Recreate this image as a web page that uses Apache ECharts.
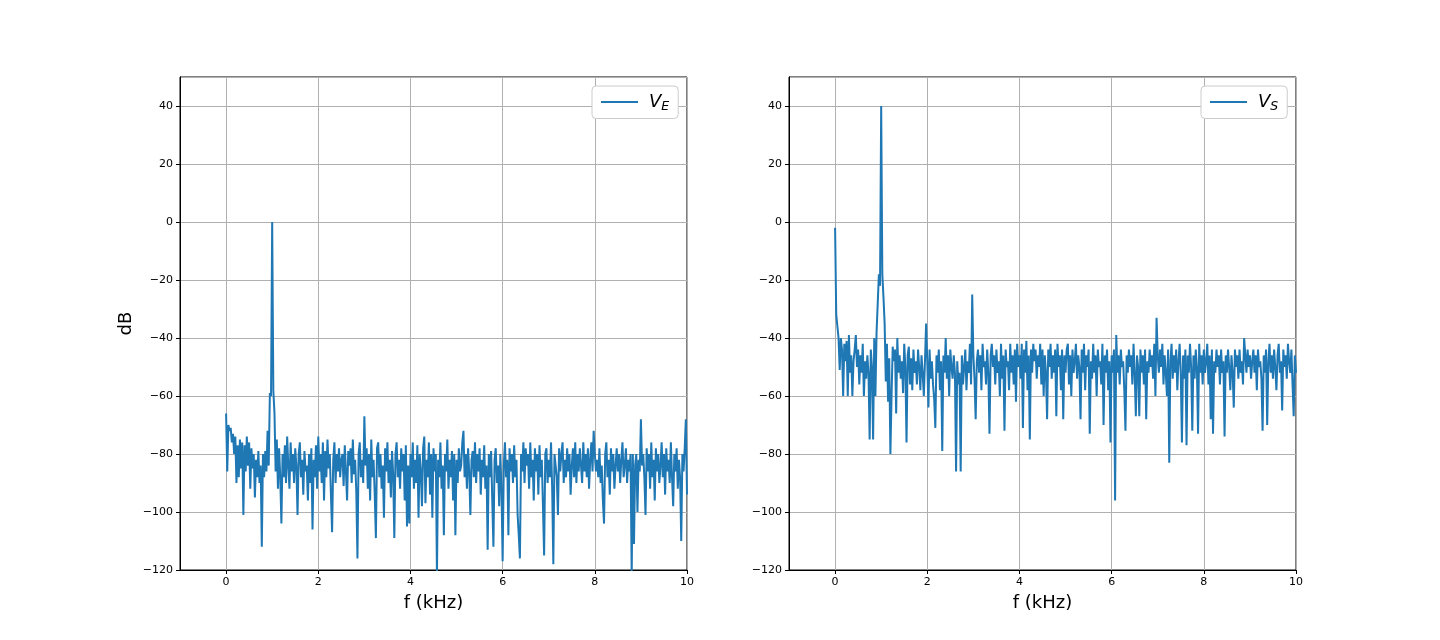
<!DOCTYPE html>
<html>
<head>
<meta charset="utf-8">
<script src="https://cdn.jsdelivr.net/npm/echarts@6/dist/echarts.min.js"></script>
<style>
  html, body { margin: 0; padding: 0; background: #fff; }
  #chart { width: 1440px; height: 640px; }
</style>
</head>
<body>
<div id="chart"></div>
<script>
// spectrum sampled every 25 Hz, 0 .. 10 kHz
const freqStep = 0.025;

// V_E (left panel), dB
const veDb = [
  -66, -86, -70, -72, -71, -76, -73, -80, -74, -90, -77, -88, -75, -85, -76, -101, -77, -86, -74, -84,
  -76, -92, -78, -85, -80, -95, -82, -88, -79, -90, -84, -112, -80, -88, -79, -86, -72, -84, -59, -60,
  0, -58, -66, -86, -75, -92, -78, -88, -104, -80, -88, -77, -90, -74, -84, -92, -76, -86, -80, -90,
  -78, -84, -101, -80, -76, -88, -82, -94, -79, -86, -84, -96, -80, -90, -78, -106, -82, -88, -77, -92,
  -74, -86, -80, -90, -76, -96, -79, -88, -75, -85, -80, -94, -107, -82, -76, -90, -80, -86, -78, -88,
  -82, -80, -91, -77, -86, -96, -79, -84, -78, -90, -75, -87, -82, -93, -116, -80, -76, -88, -82, -90,
  -67, -84, -78, -92, -80, -96, -75, -88, -82, -94, -109, -78, -76, -88, -80, -92, -84, -102, -78, -86,
  -76, -90, -82, -95, -79, -87, -109, -80, -76, -88, -82, -92, -78, -86, -80, -96, -77, -105, -84, -104,
  -80, -88, -76, -92, -82, -90, -77, -102, -80, -86, -98, -78, -74, -97, -82, -88, -76, -94, -80, -102,
  -78, -86, -80, -122, -82, -88, -76, -92, -84, -108, -80, -86, -75, -92, -82, -88, -79, -96, -80, -108,
  -82, -90, -78, -86, -84, -76, -72, -88, -80, -92, -78, -86, -101, -82, -79, -88, -76, -90, -80, -86,
  -78, -94, -82, -88, -77, -92, -84, -113, -80, -88, -79, -96, -112, -82, -78, -90, -84, -98, -80, -92,
  -117, -84, -76, -88, -82, -108, -78, -86, -80, -90, -77, -88, -82, -101, -108, -116, -80, -86, -76, -90,
  -78, -84, -80, -92, -76, -88, -82, -96, -78, -86, -80, -94, -77, -88, -82, -98, -115, -80, -78, -90,
  -82, -88, -76, -92, -118, -80, -84, -88, -101, -78, -86, -80, -76, -90, -82, -88, -78, -86, -80, -94,
  -84, -78, -88, -76, -90, -80, -86, -78, -84, -90, -76, -86, -80, -88, -78, -92, -82, -76, -86, -72,
  -80, -86, -82, -88, -78, -90, -84, -96, -104, -80, -76, -88, -82, -94, -78, -86, -80, -92, -84, -78,
  -86, -80, -90, -82, -76, -88, -84, -78, -90, -82, -86, -80, -122, -80, -111, -84, -80, -100, -82, -86,
  -68, -84, -80, -88, -101, -78, -86, -80, -92, -76, -88, -82, -96, -78, -86, -80, -90, -84, -76, -88,
  -80, -94, -78, -86, -82, -90, -76, -88, -98, -80, -86, -78, -92, -82, -88, -110, -80, -86, -78, -68,
  -94
];

// V_S (right panel), dB
const vsDb = [
  -2, -32, -36, -40, -51, -40, -44, -60, -42, -48, -41, -60, -39, -52, -46, -60, -48, -44, -39, -50,
  -44, -56, -46, -52, -42, -60, -48, -54, -46, -52, -75, -44, -50, -75, -40, -60, -38, -28, -18, -22,
  40, -18, -26, -35, -55, -42, -62, -47, -80, -60, -43, -48, -44, -66, -40, -52, -46, -54, -48, -59,
  -42, -50, -76, -46, -43, -56, -47, -58, -44, -52, -48, -56, -44, -50, -58, -46, -52, -60, -48, -35,
  -48, -64, -44, -54, -48, -56, -61, -71, -46, -52, -44, -58, -48, -79, -46, -52, -40, -54, -46, -60,
  -44, -50, -54, -46, -52, -86, -48, -56, -52, -86, -46, -56, -50, -44, -58, -48, -52, -42, -56, -25,
  -46, -54, -68, -48, -44, -52, -46, -58, -42, -50, -48, -56, -44, -52, -73, -46, -42, -50, -46, -56,
  -44, -52, -48, -60, -42, -54, -46, -72, -44, -50, -48, -58, -42, -52, -46, -56, -44, -62, -42, -50,
  -46, -54, -42, -71, -44, -52, -41, -58, -46, -75, -44, -52, -42, -48, -44, -54, -46, -50, -42, -56,
  -44, -60, -46, -52, -68, -44, -50, -42, -54, -46, -52, -44, -67, -42, -50, -46, -58, -44, -68, -46,
  -52, -44, -42, -56, -46, -60, -44, -52, -48, -42, -54, -46, -50, -68, -44, -52, -42, -58, -46, -50,
  -44, -73, -48, -54, -42, -52, -46, -60, -44, -50, -48, -56, -42, -70, -46, -52, -44, -58, -48, -76,
  -46, -52, -44, -96, -39, -52, -46, -56, -44, -50, -48, -58, -72, -46, -52, -44, -50, -46, -56, -42,
  -52, -67, -46, -50, -67, -44, -52, -46, -56, -44, -68, -48, -52, -44, -50, -46, -54, -42, -60, -33,
  -46, -52, -44, -50, -42, -56, -46, -52, -60, -44, -83, -48, -42, -54, -46, -52, -44, -58, -48, -42,
  -52, -76, -46, -54, -44, -77, -46, -52, -42, -50, -72, -46, -54, -44, -50, -73, -42, -52, -46, -56,
  -44, -52, -48, -42, -56, -46, -68, -44, -73, -48, -52, -44, -50, -46, -56, -44, -52, -48, -74, -46,
  -52, -44, -50, -58, -46, -52, -64, -44, -50, -46, -54, -44, -52, -48, -56, -40, -46, -52, -44, -50,
  -46, -54, -48, -44, -52, -46, -58, -44, -50, -48, -54, -72, -46, -52, -44, -70, -48, -42, -52, -46,
  -54, -44, -50, -58, -46, -42, -52, -48, -65, -44, -50, -46, -54, -42, -48, -52, -44, -56, -67, -46,
  -52
];

const xTicks = [0, 2, 4, 6, 8, 10];
const yMin = -120;
const yMax = 50;
const yStep = 20;

const toPairs = arr => arr.map((v, i) => [+(i * freqStep).toFixed(3), v]);

const font = 'DejaVu Sans';
const lineColor = '#1f77b4';

function makeX(idx) {
  return {
    type: 'value',
    gridIndex: idx,
    min: -1,
    max: 10,
    name: 'f (kHz)',
    nameLocation: 'middle',
    nameGap: 24,
    nameTextStyle: { fontFamily: font, fontSize: 18, color: '#000' },
    axisLine: { onZero: false, lineStyle: { color: '#000', width: 1 } },
    axisTick: { show: true, inside: false, length: 4, customValues: xTicks, lineStyle: { color: '#000' } },
    axisLabel: { customValues: xTicks, fontFamily: font, fontSize: 11, color: '#000', margin: 7 },
    splitLine: { show: true, lineStyle: { color: '#b0b0b0', width: 1 } }
  };
}

function makeY(idx, withName) {
  return {
    type: 'value',
    gridIndex: idx,
    min: yMin,
    max: yMax,
    interval: yStep,
    name: withName ? 'dB' : '',
    nameLocation: 'middle',
    nameGap: 45,
    nameTextStyle: { fontFamily: font, fontSize: 18, color: '#000' },
    axisLine: { onZero: false, lineStyle: { color: '#000', width: 1 } },
    axisTick: { show: true, inside: false, length: 4, lineStyle: { color: '#000' } },
    axisLabel: {
      showMaxLabel: false,
      fontFamily: font,
      fontSize: 11,
      color: '#000',
      margin: 7,
      formatter: v => (v < 0 ? '\u2212' + Math.abs(v) : String(v))
    },
    splitLine: { show: true, lineStyle: { color: '#b0b0b0', width: 1 } }
  };
}

function makeLegend(left, name) {
  return {
    data: [name],
    left: left,
    top: 86,
    orient: 'vertical',
    icon: 'rect',
    padding: [7, 9, 5, 9],
    itemWidth: 37,
    itemHeight: 2,
    itemGap: 0,
    backgroundColor: '#fff',
    borderColor: '#cccccc',
    borderWidth: 1,
    borderRadius: 4,
    formatter: n => '{v|V}{s|' + n.split('_')[1] + '}',
    textStyle: {
      rich: {
        v: { fontFamily: font, fontStyle: 'italic', fontSize: 18, color: '#000', padding: [0, 0, 0, 6] },
        s: { fontFamily: font, fontStyle: 'italic', fontSize: 12.5, color: '#000', padding: [10, 0, 0, 0] }
      }
    }
  };
}

const chart = echarts.init(document.getElementById('chart'), null, { renderer: 'canvas' });

chart.setOption({
  animation: false,
  backgroundColor: '#fff',
  grid: [
    { left: 180, top: 77, width: 507, height: 493, show: true, borderColor: '#000', borderWidth: 1 },
    { left: 789, top: 77, width: 507, height: 493, show: true, borderColor: '#000', borderWidth: 1 }
  ],
  xAxis: [makeX(0), makeX(1)],
  yAxis: [makeY(0, true), makeY(1, false)],
  legend: [makeLegend(592, 'V_E'), makeLegend(1201, 'V_S')],
  series: [
    {
      name: 'V_E',
      type: 'line',
      xAxisIndex: 0,
      yAxisIndex: 0,
      data: toPairs(veDb),
      symbol: 'none',
      clip: true,
      lineStyle: { color: lineColor, width: 2 },
      itemStyle: { color: lineColor }
    },
    {
      name: 'V_S',
      type: 'line',
      xAxisIndex: 1,
      yAxisIndex: 1,
      data: toPairs(vsDb),
      symbol: 'none',
      clip: true,
      lineStyle: { color: lineColor, width: 2 },
      itemStyle: { color: lineColor }
    }
  ]
});
</script>
</body>
</html>
